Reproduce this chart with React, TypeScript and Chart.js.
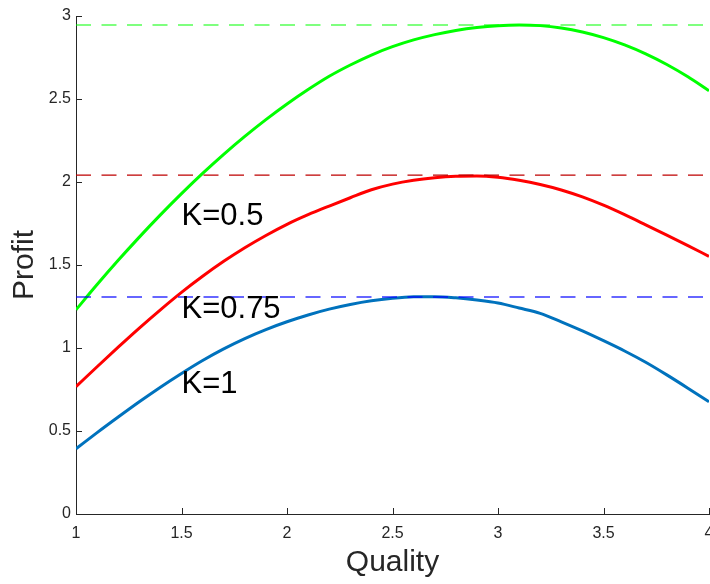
import React, { useEffect, useRef } from 'react';
import { Chart, registerables } from 'chart.js';

Chart.register(...registerables);

// ---- data ----
const quality = [1.0, 1.1, 1.2, 1.3, 1.4, 1.5, 1.6, 1.7, 1.8, 1.9, 2.0, 2.1, 2.2, 2.3, 2.4, 2.5, 2.6, 2.7, 2.8, 2.9, 3.0, 3.1, 3.2, 3.3, 3.4, 3.5, 3.6, 3.7, 3.8, 3.9, 4.0];
const profitGreen = [1.23, 1.382, 1.528, 1.668, 1.802, 1.930, 2.052, 2.167, 2.275, 2.376, 2.470, 2.557, 2.637, 2.705, 2.765, 2.815, 2.856, 2.888, 2.913, 2.931, 2.942, 2.946, 2.942, 2.928, 2.904, 2.870, 2.826, 2.772, 2.708, 2.634, 2.550];
const profitRed = [0.767, 0.887, 1.005, 1.12, 1.23, 1.335, 1.432, 1.522, 1.604, 1.678, 1.745, 1.803, 1.855, 1.905, 1.953, 1.987, 2.010, 2.025, 2.034, 2.036, 2.028, 2.010, 1.985, 1.952, 1.91, 1.86, 1.803, 1.742, 1.68, 1.617, 1.552];
const profitBlue = [0.393, 0.49, 0.584, 0.676, 0.764, 0.847, 0.925, 0.995, 1.057, 1.111, 1.158, 1.199, 1.234, 1.262, 1.284, 1.299, 1.308, 1.309, 1.302, 1.289, 1.271, 1.241, 1.209, 1.158, 1.103, 1.044, 0.982, 0.914, 0.838, 0.758, 0.676];
const maxLevels = [2.946, 2.042, 1.307];
const xTicks = [1, 1.5, 2, 2.5, 3, 3.5, 4];
const yTicks = [0, 0.5, 1, 1.5, 2, 2.5, 3];
const textLabels = ['K=0.5', 'K=0.75', 'K=1'];
const textX = [1.5, 1.5, 1.5];
const textY = [1.79, 1.23, 0.78];

const FONT = "'Liberation Sans', Arial, Helvetica, sans-serif";
const AXIS_COLOR = '#262626';

const overlayPlugin = {
  id: 'overlay',
  afterDatasetsDraw(chart: any) {
    const { ctx, chartArea, scales } = chart;
    const x = scales.x;
    const y = scales.y;
    ctx.save();
    ctx.strokeStyle = AXIS_COLOR;
    ctx.lineWidth = 1;
    ctx.beginPath();
    for (const v of xTicks) {
      const px = Math.round(x.getPixelForValue(v)) + 0.5;
      ctx.moveTo(px, chartArea.bottom);
      ctx.lineTo(px, chartArea.bottom - 6);
    }
    for (const v of yTicks) {
      const py = Math.round(y.getPixelForValue(v)) + 0.5;
      ctx.moveTo(chartArea.left, py);
      ctx.lineTo(chartArea.left + 6, py);
    }
    ctx.stroke();
    ctx.fillStyle = '#000000';
    ctx.font = `31px ${FONT}`;
    ctx.textAlign = 'left';
    ctx.textBaseline = 'middle';
    textLabels.forEach((t, i) => {
      ctx.fillText(t, x.getPixelForValue(textX[i]), y.getPixelForValue(textY[i]));
    });
    ctx.restore();
  },
};

const fmt = (v: any) => String(Number(v));

export default function App() {
  const ref = useRef<HTMLCanvasElement | null>(null);
  useEffect(() => {
    if (!ref.current) return;
    const pts = (ys: number[]) => quality.map((q, i) => ({ x: q, y: ys[i] }));
    const flat = (v: number) => [{ x: quality[0], y: v }, { x: quality[quality.length - 1], y: v }];
    const curve = { borderWidth: 3, pointRadius: 0, cubicInterpolationMode: 'monotone' as const, order: 2 };
    const dashed = { pointRadius: 0, borderDash: [15, 10.5], order: 1 };
    const chart = new Chart(ref.current, {
      type: 'line',
      data: {
        datasets: [
          { label: 'K=0.5', data: pts(profitGreen), borderColor: '#00ff00', ...curve },
          { label: 'K=0.75', data: pts(profitRed), borderColor: '#ff0000', ...curve },
          { label: 'K=1', data: pts(profitBlue), borderColor: '#0072bd', ...curve },
          { label: 'max K=0.5', data: flat(maxLevels[0]), borderColor: 'rgba(0,255,0,0.5)', borderWidth: 2, ...dashed },
          { label: 'max K=0.75', data: flat(maxLevels[1]), borderColor: 'rgb(190,0,0)', borderWidth: 1.2, ...dashed },
          { label: 'max K=1', data: flat(maxLevels[2]), borderColor: 'rgba(0,0,255,0.6)', borderWidth: 2, ...dashed },
        ],
      },
      options: {
        responsive: false,
        animation: false,
        layout: { padding: { left: 0, top: 16, right: 1, bottom: 0 } },
        plugins: { legend: { display: false }, tooltip: { enabled: false } },
        scales: {
          x: {
            type: 'linear',
            min: 1,
            max: 4,
            grid: { display: false, drawTicks: false, tickLength: 0 },
            border: { display: true, color: AXIS_COLOR, width: 1 },
            ticks: { stepSize: 0.5, color: AXIS_COLOR, font: { family: FONT, size: 16 }, padding: 10, maxRotation: 0, autoSkip: false, callback: fmt },
            title: { display: true, text: 'Quality', color: AXIS_COLOR, font: { family: FONT, size: 30 }, padding: { top: 0, bottom: 3 } },
            afterFit: (s: any) => { s.height = 70; s.paddingLeft = 0; s.paddingRight = 0; },
          },
          y: {
            type: 'linear',
            min: 0,
            max: 3,
            grid: { display: false, drawTicks: false, tickLength: 0 },
            border: { display: true, color: AXIS_COLOR, width: 1 },
            ticks: { stepSize: 0.5, color: AXIS_COLOR, font: { family: FONT, size: 16 }, padding: 5, callback: fmt },
            title: { display: true, text: 'Profit', color: AXIS_COLOR, font: { family: FONT, size: 30 }, padding: { top: 7, bottom: 0 } },
            afterFit: (s: any) => { s.width = 76; s.paddingTop = 0; s.paddingBottom = 0; },
          },
        },
      },
      plugins: [overlayPlugin],
    });
    return () => chart.destroy();
  }, []);
  return (
    <div style={{ position: 'fixed', left: 0, top: 0, width: 710, height: 584, background: '#fff' }}>
      <canvas ref={ref} width={710} height={584} style={{ display: 'block' }} />
    </div>
  );
}
